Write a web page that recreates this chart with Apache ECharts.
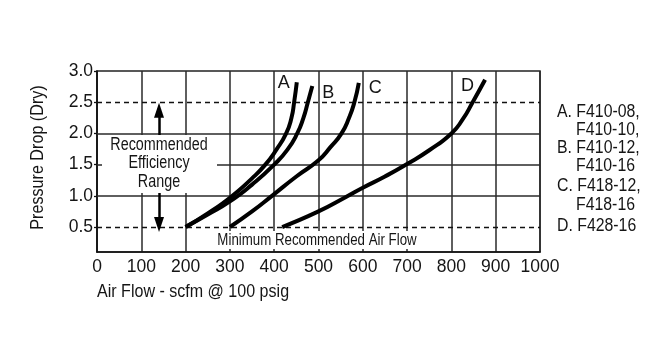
<!DOCTYPE html>
<html>
<head>
<meta charset="utf-8">
<script src="https://cdn.jsdelivr.net/npm/echarts@6/dist/echarts.min.js"></script>
<style>html,body{margin:0;padding:0;background:#fff}#c{width:650px;height:351px}</style>
</head>
<body>
<div id="c"></div>
<script>
// ---- data ----
var curveNames = ['A', 'B', 'C', 'D'];
var aFlow = [200, 250, 300, 350, 380, 405, 427, 439, 445, 451];
var aDrop = [0.5, 0.72, 0.97, 1.28, 1.5, 1.74, 2.0, 2.25, 2.5, 2.82];
var bFlow = [200, 250, 300, 350, 400, 430, 452, 466, 476, 486];
var bDrop = [0.5, 0.7, 0.91, 1.18, 1.5, 1.74, 2.0, 2.25, 2.5, 2.76];
var cFlow = [300, 350, 395, 450, 500, 527, 552, 569, 581, 591];
var cDrop = [0.5, 0.75, 1.0, 1.31, 1.57, 1.78, 2.0, 2.25, 2.5, 2.81];
var dFlow = [418, 500, 564, 600, 650, 700, 750, 800, 825, 848, 876];
var dDrop = [0.5, 0.75, 0.99, 1.13, 1.31, 1.51, 1.73, 2.0, 2.22, 2.5, 2.86];
var yTicks = [0.5, 1.0, 1.5, 2.0, 2.5, 3.0];
var solidLevels = [1.0, 1.5, 2.0];
var dashedLevels = [0.5, 2.5];
var legendLines = ['A. F410-08,', 'F410-10,', 'B. F410-12,', 'F410-16', 'C. F418-12,', 'F418-16', 'D. F428-16'];
var arrowFlow = 140;
var upArrow = [1.97, 2.37];
var downArrow = [1.05, 0.54];

// ---- chart ----
var FONT = '"Liberation Sans", Arial, sans-serif';
var INK = '#151515';
var chart = echarts.init(document.getElementById('c'), null, {renderer: 'canvas'});

var labelStyles = [
  {position: 'left', distance: 7, offset: [0, 1]},
  {position: 'right', distance: 10, offset: [0, 7]},
  {position: 'right', distance: 10, offset: [0, 5]},
  {position: 'left', distance: 11, offset: [0, 6]}
];

function build(xs, ys, idx) {
  return xs.map(function (x, i) {
    var item = {value: [x, ys[i]]};
    if (i === xs.length - 1) {
      item.label = Object.assign({
        show: true, formatter: curveNames[idx], fontFamily: FONT,
        fontSize: 18, color: INK
      }, labelStyles[idx]);
    }
    return item;
  });
}

var gridLines = solidLevels.map(function (v) {
  return {yAxis: v, lineStyle: {type: 'solid', color: '#2a2a2a', width: 1.5}};
}).concat(dashedLevels.map(function (v) {
  return {yAxis: v, lineStyle: {type: [5, 4], color: '#111', width: 1.3}};
}));

var arrows = [
  [{coord: [arrowFlow, upArrow[0]]}, {coord: [arrowFlow, upArrow[1]]}],
  [{coord: [arrowFlow, downArrow[0]]}, {coord: [arrowFlow, downArrow[1]]}]
];

function curve(xs, ys, idx) {
  return {
    type: 'line', name: curveNames[idx], data: build(xs, ys, idx),
    smooth: 0.55, symbol: 'circle', symbolSize: 0, showSymbol: true,
    lineStyle: {color: '#000', width: 4, cap: 'butt'}, itemStyle: {color: '#000'},
    z: 5, silent: true, animation: false
  };
}

var series = [
  curve(aFlow, aDrop, 0), curve(bFlow, bDrop, 1), curve(cFlow, cDrop, 2), curve(dFlow, dDrop, 3),
  {
    type: 'line', data: aFlow.map(function (x, i) { return [x, aDrop[i]]; }),
    symbol: 'none', lineStyle: {opacity: 0}, silent: true, z: 1, animation: false,
    markLine: {
      silent: true, symbol: 'none', animation: false, label: {show: false},
      data: gridLines
    }
  },
  {
    type: 'line', data: [], symbol: 'none', silent: true, z: 4, animation: false,
    markLine: {
      silent: true, symbol: ['none', 'triangle'], symbolSize: [10, 15], animation: false,
      label: {show: false}, lineStyle: {type: 'solid', color: '#000', width: 2.5},
      data: arrows
    }
  }
];

function txt(text, x, y, size, sx, align, extra, rot) {
  return {type: 'text', z: 101, x: x, y: y, scaleX: sx, rotation: rot || 0, style: Object.assign({
    text: text, fontFamily: FONT, fontSize: size, fill: INK, align: align, verticalAlign: 'middle'
  }, extra || {})};
}

var graphic = [
  {type: 'rect', z: 100, shape: {x: 102, y: 135, width: 115, height: 58}, style: {fill: '#fff'}},
  txt('Recommended\nEfficiency\nRange', 159, 163.5, 17.5, 0.82, 'center', {lineHeight: 18.5}),
  {type: 'rect', z: 100, shape: {x: 213, y: 231, width: 207, height: 18}, style: {fill: '#fff'}},
  txt('Minimum Recommended Air Flow', 317, 240.5, 16, 0.83, 'center'),
  txt('Air Flow - scfm @ 100 psig', 97, 292, 19, 0.845, 'left'),
  txt('Pressure Drop (Dry)', 38, 157.5, 19, 0.85, 'center', null, Math.PI / 2)
];
var legendX = [557, 576, 557, 576, 557, 576, 557];
var legendY = [112, 130, 148, 166, 186, 205, 226];
legendLines.forEach(function (t, i) {
  graphic.push(txt(t, legendX[i], legendY[i], 18, 0.88, 'left'));
});

chart.setOption({
  animation: false,
  backgroundColor: '#fff',
  grid: {left: 97, right: 110, top: 71, bottom: 99, show: true, borderColor: '#222', borderWidth: 1.5, backgroundColor: 'transparent'},
  xAxis: {
    type: 'value', min: 0, max: 1000, interval: 100,
    axisLine: {show: true, lineStyle: {color: '#111', width: 1.5}},
    axisTick: {show: false},
    axisLabel: {color: INK, fontFamily: FONT, fontSize: 17.5, margin: 6,
      formatter: function (v) { return String(v); }},
    splitLine: {show: true, lineStyle: {color: '#2a2a2a', width: 1.5}}
  },
  yAxis: {
    type: 'value', min: 0.1, max: 3.0,
    axisLine: {show: true, lineStyle: {color: '#111', width: 1.5}},
    axisTick: {show: true, length: 3, customValues: yTicks, lineStyle: {color: '#111', width: 1.3}},
    axisLabel: {color: INK, fontFamily: FONT, fontSize: 17.5, margin: 4, customValues: yTicks,
      formatter: function (v) { return v.toFixed(1); }},
    splitLine: {show: false}
  },
  series: series,
  graphic: graphic
});
</script>
</body>
</html>
